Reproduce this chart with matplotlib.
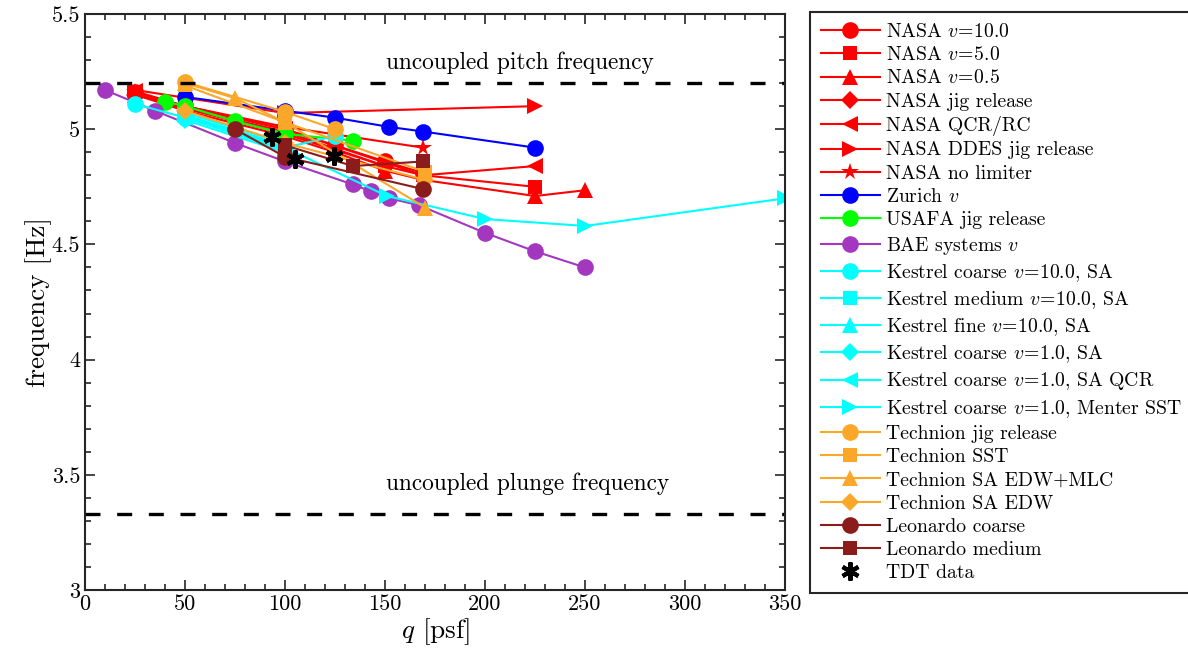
import matplotlib
matplotlib.use("Agg")
import matplotlib.pyplot as plt
from matplotlib.ticker import MultipleLocator

plt.rcParams["font.family"] = "serif"
plt.rcParams["font.serif"] = ["cmr10"]
plt.rcParams["mathtext.fontset"] = "cm"
plt.rcParams["axes.formatter.use_mathtext"] = True

# ---- data: dynamic pressure q [psf] and frequency [Hz] per source ----
nasa_v10_q = [25, 50, 100, 125, 150, 169]
nasa_v10_f = [5.16, 5.10, 5.00, 4.93, 4.86, 4.81]
nasa_v5_q = [25, 50, 100, 125, 150, 169, 225]
nasa_v5_f = [5.155, 5.09, 4.98, 4.91, 4.84, 4.80, 4.75]
nasa_v05_q = [25, 50, 100, 125, 150, 169, 225, 250]
nasa_v05_f = [5.15, 5.08, 4.97, 4.90, 4.82, 4.78, 4.71, 4.735]
nasa_jig_q = [25, 50, 100, 150]
nasa_jig_f = [5.15, 5.09, 4.99, 4.84]
nasa_qcr_q = [25, 50, 100, 169, 225]
nasa_qcr_f = [5.165, 5.10, 5.00, 4.80, 4.84]
nasa_ddes_q = [25, 100, 225]
nasa_ddes_f = [5.17, 5.07, 5.10]
nasa_nolim_q = [25, 50, 100, 169]
nasa_nolim_f = [5.16, 5.10, 5.01, 4.92]
zurich_q = [50, 100, 125, 152, 169, 225]
zurich_f = [5.14, 5.08, 5.05, 5.01, 4.99, 4.92]
usafa_q = [40, 50, 75, 100, 134]
usafa_f = [5.12, 5.10, 5.035, 4.98, 4.95]
bae_q = [10, 35, 75, 100, 134, 143, 152, 167, 200, 225, 250]
bae_f = [5.17, 5.08, 4.94, 4.86, 4.76, 4.73, 4.70, 4.67, 4.55, 4.47, 4.40]
kes_coarse10_q = [25, 50, 100, 125]
kes_coarse10_f = [5.11, 5.05, 4.92, 4.97]
kes_medium10_q = [50, 100]
kes_medium10_f = [5.06, 4.93]
kes_fine10_q = [50, 100]
kes_fine10_f = [5.07, 4.94]
kes_coarse1_q = [50, 100]
kes_coarse1_f = [5.04, 4.90]
kes_qcr_q = [50, 100]
kes_qcr_f = [5.05, 4.91]
kes_sst_q = [50, 100, 151, 200, 250, 350]
kes_sst_f = [5.06, 4.92, 4.71, 4.61, 4.58, 4.70]
tech_jig_q = [50, 100, 125]
tech_jig_f = [5.205, 5.075, 5.00]
tech_sst_q = [50, 100, 170]
tech_sst_f = [5.19, 5.03, 4.815]
tech_mlc_q = [50, 75, 100, 170]
tech_mlc_f = [5.20, 5.135, 5.03, 4.66]
tech_edw_q = [50, 100, 170]
tech_edw_f = [5.08, 4.94, 4.78]
leo_coarse_q = [75, 100, 169]
leo_coarse_f = [5.00, 4.88, 4.74]
leo_medium_q = [100, 134, 169]
leo_medium_f = [4.93, 4.84, 4.86]
tdt_q = [93.5, 105, 124.5]
tdt_f = [4.965, 4.87, 4.885]

pitch_freq = 5.2
plunge_freq = 3.33

RED = "#FF0000"
BLUE = "#0000FF"
GREEN = "#00FF00"
PURPLE = "#A437BF"
CYAN = "#00FFFF"
ORANGE = "#FBA72A"
BROWN = "#8A1C1C"

series = [
    (nasa_v10_q, nasa_v10_f, RED, "o", r"NASA $v\!=\!10.0$"),
    (nasa_v5_q, nasa_v5_f, RED, "s", r"NASA $v\!=\!5.0$"),
    (nasa_v05_q, nasa_v05_f, RED, "^", r"NASA $v\!=\!0.5$"),
    (nasa_jig_q, nasa_jig_f, RED, "D", "NASA jig release"),
    (nasa_qcr_q, nasa_qcr_f, RED, "<", "NASA QCR/RC"),
    (nasa_ddes_q, nasa_ddes_f, RED, ">", "NASA DDES jig release"),
    (nasa_nolim_q, nasa_nolim_f, RED, "*", "NASA no limiter"),
    (zurich_q, zurich_f, BLUE, "o", r"Zurich $v$"),
    (usafa_q, usafa_f, GREEN, "o", "USAFA jig release"),
    (bae_q, bae_f, PURPLE, "o", r"BAE systems $v$"),
    (kes_coarse10_q, kes_coarse10_f, CYAN, "o", r"Kestrel coarse $v\!=\!10.0$, SA"),
    (kes_medium10_q, kes_medium10_f, CYAN, "s", r"Kestrel medium $v\!=\!10.0$, SA"),
    (kes_fine10_q, kes_fine10_f, CYAN, "^", r"Kestrel fine $v\!=\!10.0$, SA"),
    (kes_coarse1_q, kes_coarse1_f, CYAN, "D", r"Kestrel coarse $v\!=\!1.0$, SA"),
    (kes_qcr_q, kes_qcr_f, CYAN, "<", r"Kestrel coarse $v\!=\!1.0$, SA QCR"),
    (kes_sst_q, kes_sst_f, CYAN, ">", r"Kestrel coarse $v\!=\!1.0$, Menter SST"),
    (tech_jig_q, tech_jig_f, ORANGE, "o", "Technion jig release"),
    (tech_sst_q, tech_sst_f, ORANGE, "s", "Technion SST"),
    (tech_mlc_q, tech_mlc_f, ORANGE, "^", "Technion SA EDW+MLC"),
    (tech_edw_q, tech_edw_f, ORANGE, "D", "Technion SA EDW"),
    (leo_coarse_q, leo_coarse_f, BROWN, "o", "Leonardo coarse"),
    (leo_medium_q, leo_medium_f, BROWN, "s", "Leonardo medium"),
]

marker_size = {"o": 12, "s": 10, "^": 12, "D": 9, "<": 12, ">": 12, "*": 13}

fig = plt.figure(figsize=(11.88, 6.64), dpi=100)
ax = fig.add_axes([85 / 1188, 74 / 664, 700 / 1188, 576 / 664])

handles = []
for q, f, color, mk, label in series:
    h, = ax.plot(q, f, color=color, marker=mk, markersize=marker_size[mk],
                 linewidth=1.5, markeredgewidth=0, label=label)
    handles.append(h)

h_tdt, = ax.plot(tdt_q, tdt_f, linestyle="none", marker=(6, 2, 0), markersize=13,
                 markeredgewidth=3, color="black", label="TDT data")
handles.append(h_tdt)

ax.axhline(pitch_freq, color="black", linewidth=2.4, dashes=(4.5, 5))
ax.axhline(plunge_freq, color="black", linewidth=2.4, dashes=(4.5, 5))
ax.text(217.5, 5.29, "uncoupled pitch frequency", ha="center", va="center",
        fontsize=16.8)
ax.text(221.5, 3.46, "uncoupled plunge frequency", ha="center", va="center",
        fontsize=16.8)

ax.set_xlim(0, 350)
ax.set_ylim(3, 5.5)
ax.xaxis.set_minor_locator(MultipleLocator(10))
ax.yaxis.set_minor_locator(MultipleLocator(0.1))
ax.set_xticks([0, 50, 100, 150, 200, 250, 300, 350])
ax.set_xticklabels(["0", "50", "100", "150", "200", "250", "300", "350"])
ax.set_yticks([3, 3.5, 4, 4.5, 5, 5.5])
ax.set_yticklabels(["3", "3.5", "4", "4.5", "5", "5.5"])
ax.tick_params(which="both", direction="in", top=True, right=True, labelsize=16,
               width=1.2, colors="#262626", labelcolor="black")
ax.tick_params(which="major", length=7)
ax.tick_params(which="minor", length=4)
for sp in ax.spines.values():
    sp.set_linewidth(1.5)
    sp.set_color("#262626")
ax.set_xlabel(r"$q$ [psf]", fontsize=19.5, labelpad=1)
ax.set_ylabel("frequency [Hz]", fontsize=19.5, labelpad=0)

leg = fig.legend(handles=handles, loc="upper left",
                 bbox_to_anchor=(810 / 1188, 1 - 12 / 664), borderaxespad=0,
                 fontsize=14.2, handlelength=3.0, labelspacing=0.27,
                 handletextpad=0.3, borderpad=0.55, fancybox=False,
                 framealpha=1, edgecolor="#262626")
leg.get_frame().set_linewidth(1.5)

fig.savefig("out.png", dpi=100)
